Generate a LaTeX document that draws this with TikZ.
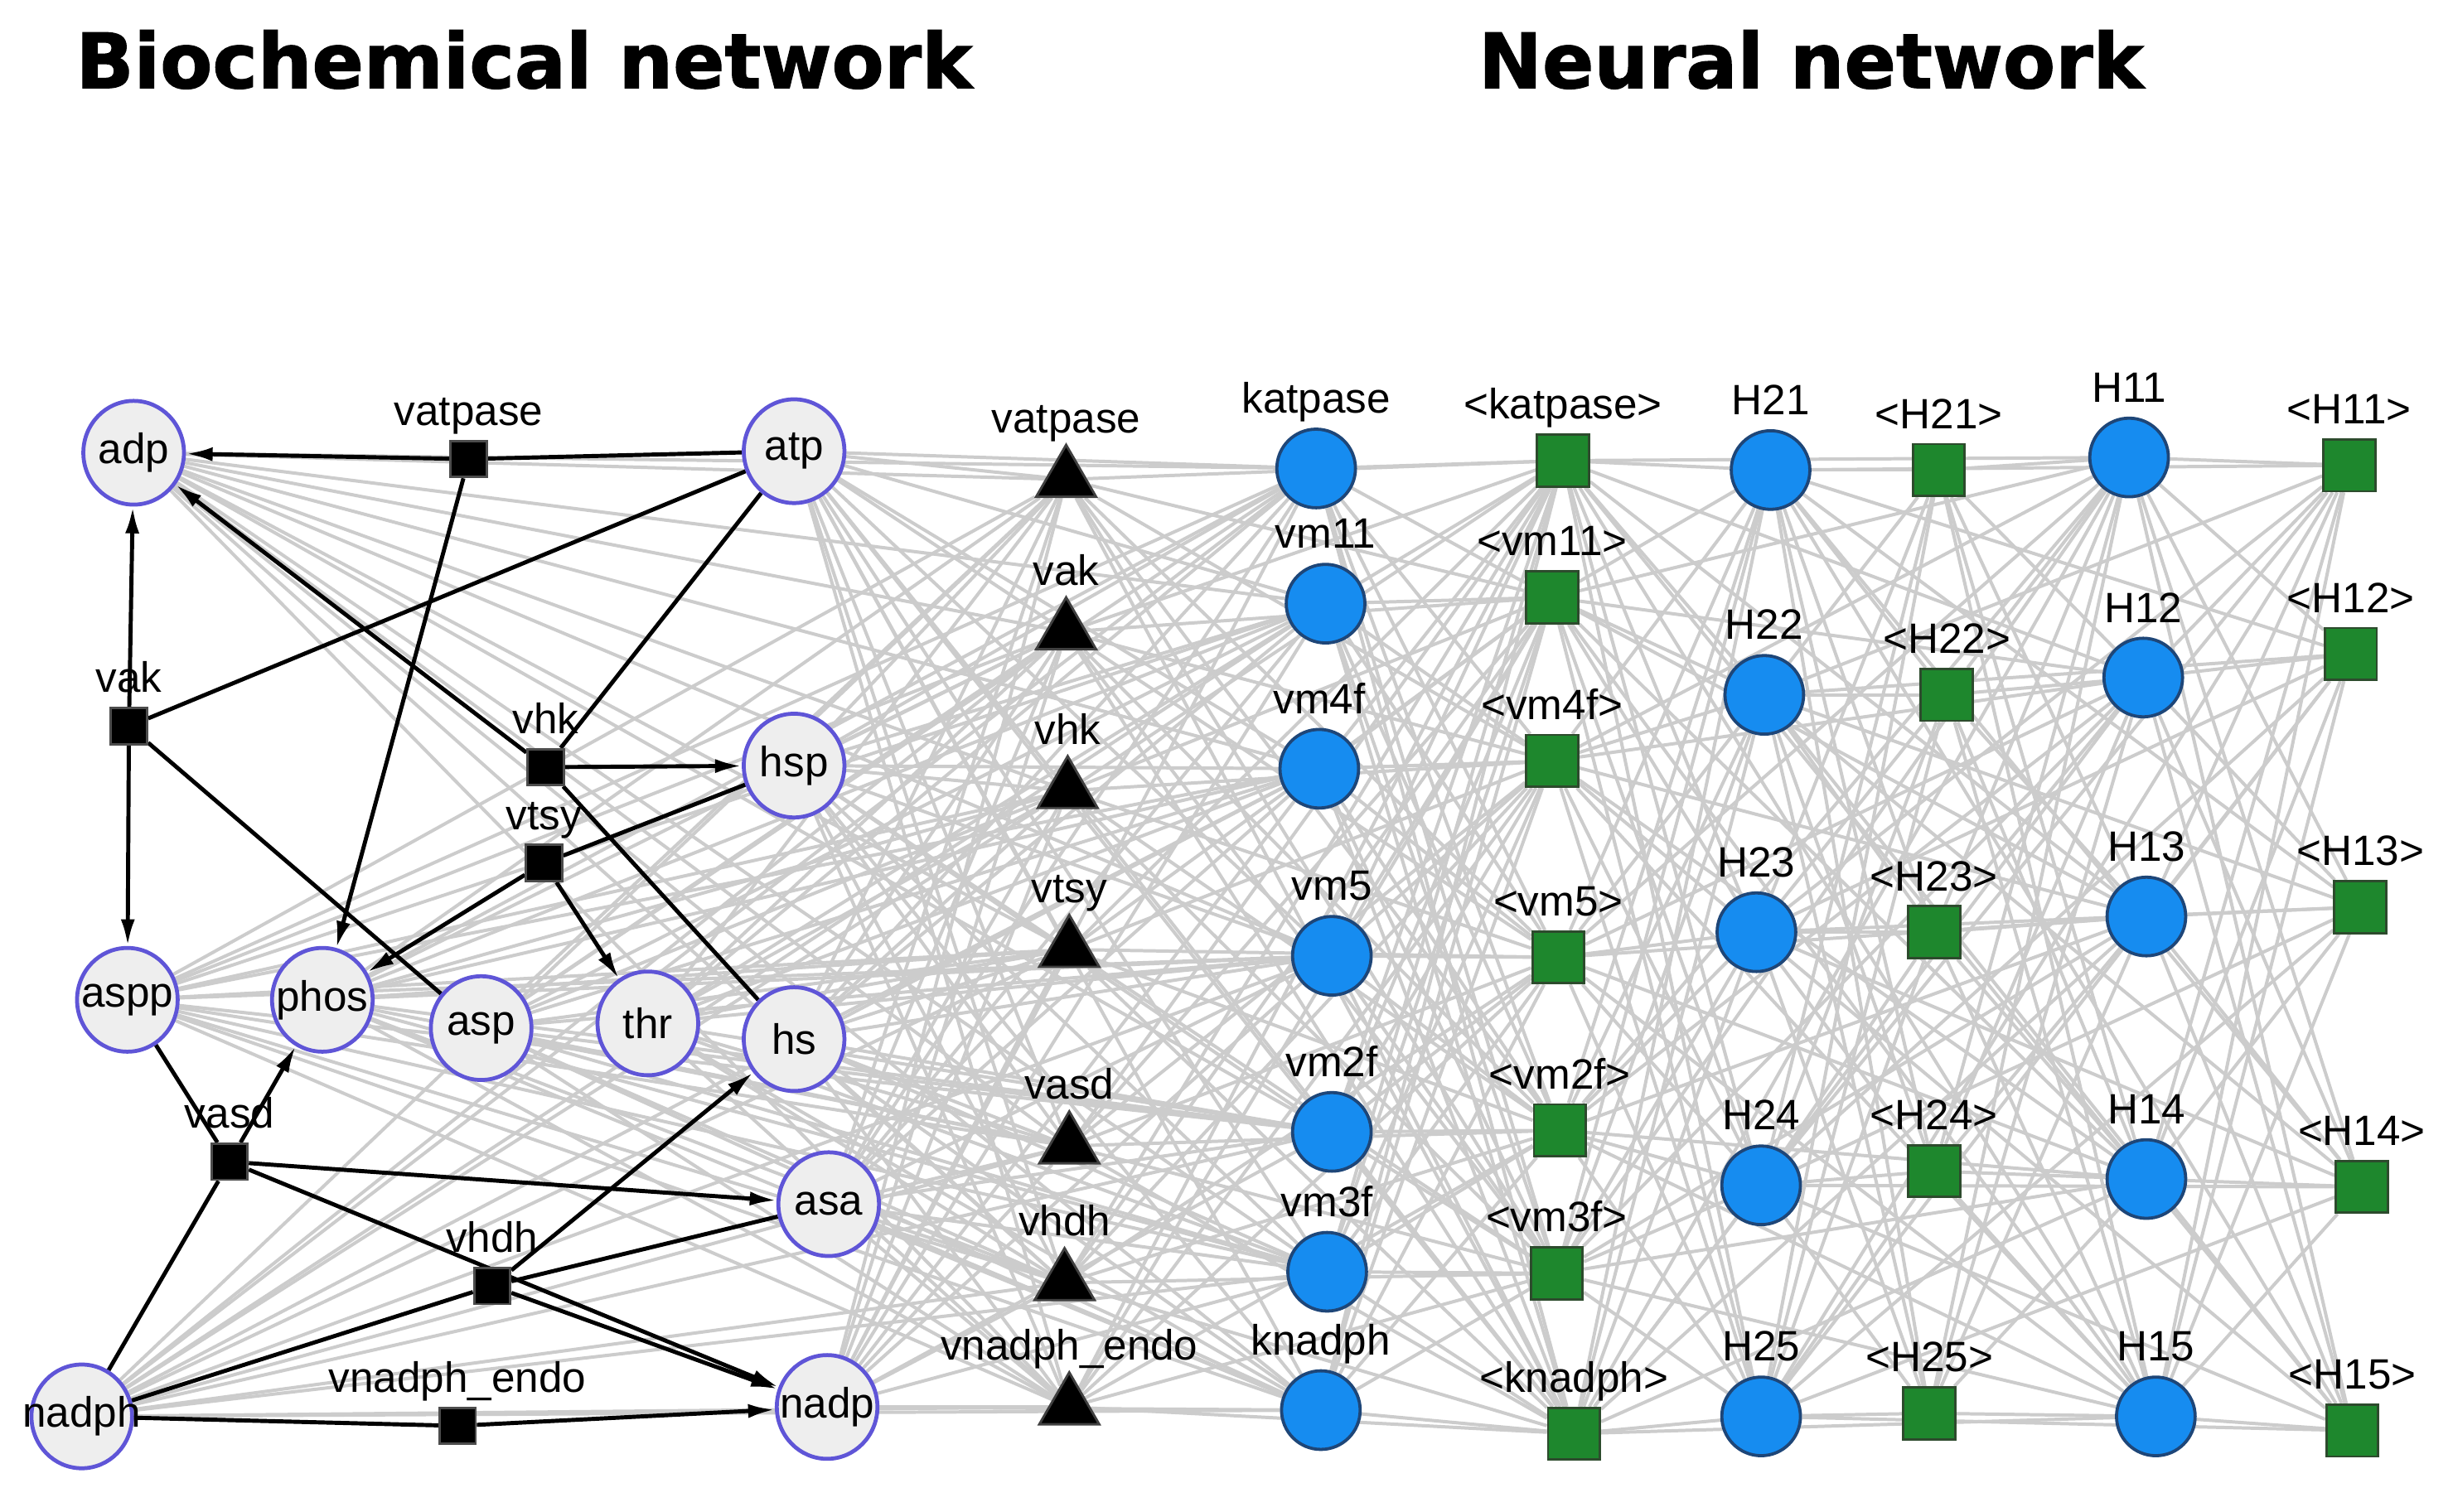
\documentclass[tikz,border=0pt]{standalone}
\usepackage{fontspec}
\setmainfont{Liberation Sans}
\newfontfamily\titlefont[FakeBold=1.3]{DejaVu Sans Bold}
\usetikzlibrary{shapes.geometric,arrows.meta,backgrounds}
\definecolor{edgegray}{RGB}{204,204,204}
\definecolor{specborder}{RGB}{95,85,215}
\definecolor{specfill}{RGB}{238,238,238}
\definecolor{nblue}{RGB}{22,140,240}
\definecolor{nblueb}{RGB}{30,70,120}
\definecolor{ngreen}{RGB}{30,135,45}
\definecolor{ngreenb}{RGB}{45,75,45}
\newcommand\zbox[1]{\makebox[0pt]{#1}}
\begin{document}
\begin{tikzpicture}[x=1pt,y=-1pt,
  every node/.style={font=\fontsize{27}{30}\selectfont},
  spec/.style={ellipse, minimum width=64, minimum height=66, inner sep=0, draw=specborder, fill=specfill, line width=2.5},
  rsq/.style={rectangle, minimum size=23, inner sep=0, fill=black, draw=black!70, line width=1.5},
  tri/.style={regular polygon, regular polygon sides=3, minimum size=44, inner sep=0, fill=black, draw=black!75, line width=1.5},
  bcirc/.style={circle, minimum size=50, inner sep=0, fill=nblue, draw=nblueb, line width=2},
  gsq/.style={rectangle, minimum size=33, inner sep=0, fill=ngreen, draw=ngreenb, line width=1.5},
  lbl/.style={inner sep=0, text height=20, text depth=6, label distance=3},
  tlbl/.style={inner sep=0, text height=20, text depth=6, label distance=0},
  gedge/.style={draw=edgegray, line width=2.1},
  bedge/.style={draw=black, line width=2.6},
  barrow/.style={bedge, -{Latex[length=17,width=9]}},
  ttl/.style={font=\titlefont\fontsize{48.5}{50}\selectfont, inner sep=0, anchor=base west}
]
\useasboundingbox (0,0) rectangle (1560,961.3);

% titles
\node[ttl] (t1) at (48,56) {Biochemical network};
\node[ttl] (t2) at (940,56) {Neural network};

% species
\node[spec] (adp) at (85,288) {\zbox{adp}};
\node[spec] (atp) at (505,287) {\zbox{atp}};
\node[spec] (hsp) at (505,487) {\zbox{hsp}};
\node[spec] (aspp) at (81,636) {\zbox{aspp}};
\node[spec] (phos) at (205,636) {\zbox{phos}};
\node[spec] (asp) at (306,654) {\zbox{asp}};
\node[spec] (thr) at (412,651) {\zbox{thr}};
\node[spec] (hs) at (505,661) {\zbox{hs}};
\node[spec] (asa) at (527,766) {\zbox{asa}};
\node[spec] (nadp) at (526,895) {\zbox{nadp}};
\node[spec] (nadph) at (52,901) {\zbox{nadph}};

% reactions (squares)
\node[rsq, label={[lbl]above:vatpase}] (rvatpase) at (298,292) {};
\node[rsq, label={[lbl]above:vak}] (rvak) at (82,462) {};
\node[rsq, label={[lbl]above:vhk}] (rvhk) at (347,488) {};
\node[rsq, label={[lbl]above:vtsy}] (rvtsy) at (346,549) {};
\node[rsq, label={[lbl]above:vasd}] (rvasd) at (146,739) {};
\node[rsq, label={[lbl]above:vhdh}] (rvhdh) at (313,818) {};
\node[rsq, label={[lbl]above:vnadph\_endo}] (rvnadph) at (291,907) {};

% triangles
\node[tri, label={[tlbl]above:vatpase}] (tvatpase) at (678,305) {};
\node[tri, label={[tlbl]above:vak}] (tvak) at (678,402) {};
\node[tri, label={[tlbl]above:vhk}] (tvhk) at (679,503) {};
\node[tri, label={[tlbl]above:vtsy}] (tvtsy) at (680,604) {};
\node[tri, label={[tlbl]above:vasd}] (tvasd) at (680,729) {};
\node[tri, label={[tlbl]above:vhdh}] (tvhdh) at (677,816) {};
\node[tri, label={[tlbl]above:vnadph\_endo}] (tvnadph) at (680,895) {};

% first blue layer
\node[bcirc, label={[lbl]above:katpase}] (katpase) at (837,298) {};
\node[bcirc, label={[lbl]above:vm11}] (vm11) at (843,384) {};
\node[bcirc, label={[lbl]above:vm4f}] (vm4f) at (839,489) {};
\node[bcirc, label={[lbl]above:vm5}] (vm5) at (847,608) {};
\node[bcirc, label={[lbl]above:vm2f}] (vm2f) at (847,720) {};
\node[bcirc, label={[lbl]above:vm3f}] (vm3f) at (844,809) {};
\node[bcirc, label={[lbl]above:knadph}] (knadph) at (840,897) {};

% first green layer
\node[gsq, label={[lbl]above:<katpase>}] (gkatpase) at (994,293) {};
\node[gsq, label={[lbl]above:<vm11>}] (gvm11) at (987,380) {};
\node[gsq, label={[lbl]above:<vm4f>}] (gvm4f) at (987,484) {};
\node[gsq, label={[lbl]above:<vm5>}] (gvm5) at (991,609) {};
\node[gsq, label={[lbl]above:<vm2f>}] (gvm2f) at (992,719) {};
\node[gsq, label={[lbl]above:<vm3f>}] (gvm3f) at (990,810) {};
\node[gsq, label={[lbl]above:<knadph>}] (gknadph) at (1001,912) {};

% H2 layer
\node[bcirc, label={[lbl]above:H21}] (H21) at (1126,299) {};
\node[bcirc, label={[lbl]above:H22}] (H22) at (1122,442) {};
\node[bcirc, label={[lbl]above:H23}] (H23) at (1117,593) {};
\node[bcirc, label={[lbl]above:H24}] (H24) at (1120,754) {};
\node[bcirc, label={[lbl]above:H25}] (H25) at (1120,901) {};
\node[gsq, label={[lbl]above:<H21>}] (gH21) at (1233,299) {};
\node[gsq, label={[lbl]above:<H22>}] (gH22) at (1238,442) {};
\node[gsq, label={[lbl]above:<H23>}] (gH23) at (1230,593) {};
\node[gsq, label={[lbl]above:<H24>}] (gH24) at (1230,745) {};
\node[gsq, label={[lbl]above:<H25>}] (gH25) at (1227,899) {};

% H1 layer
\node[bcirc, label={[lbl]above:H11}] (H11) at (1354,291) {};
\node[bcirc, label={[lbl]above:H12}] (H12) at (1363,431) {};
\node[bcirc, label={[lbl]above:H13}] (H13) at (1365,583) {};
\node[bcirc, label={[lbl]above:H14}] (H14) at (1365,750) {};
\node[bcirc, label={[lbl]above:H15}] (H15) at (1371,901) {};
\node[gsq, label={[lbl]above:<H11>}] (gH11) at (1494,296) {};
\node[gsq, label={[lbl]above:<H12>}] (gH12) at (1495,416) {};
\node[gsq, label={[lbl]above:<H13>}] (gH13) at (1501,577) {};
\node[gsq, label={[lbl]above:<H14>}] (gH14) at (1502,755) {};
\node[gsq, label={[lbl]above:<H15>}] (gH15) at (1496,910) {};

\begin{scope}[on background layer]
  \fill[white] (0,0) rectangle (1560,961.3);
  % gray connections
  \foreach \s in {adp,atp,hsp,aspp,phos,asp,thr,hs,asa,nadp,nadph}
    \foreach \b in {katpase,vm11,vm4f,vm5,vm2f,vm3f,knadph,tvatpase,tvak,tvhk,tvtsy,tvasd,tvhdh,tvnadph}
      \draw[gedge] (\s) -- (\b);
  \foreach \t in {tvatpase,tvak,tvhk,tvtsy,tvasd,tvhdh,tvnadph}
    \foreach \g in {gkatpase,gvm11,gvm4f,gvm5,gvm2f,gvm3f,gknadph}
      \draw[gedge] (\t) -- (\g);
  \foreach \b in {katpase,vm11,vm4f,vm5,vm2f,vm3f,knadph}
    \foreach \g in {gkatpase,gvm11,gvm4f,gvm5,gvm2f,gvm3f,gknadph}
      \draw[gedge] (\b) -- (\g);
  \foreach \g in {gkatpase,gvm11,gvm4f,gvm5,gvm2f,gvm3f,gknadph}
    \foreach \h in {H21,H22,H23,H24,H25,H11,H12,H13,H14,H15}
      \draw[gedge] (\g) -- (\h);
  \foreach \h in {H21,H22,H23,H24,H25}
    \foreach \k in {gH21,gH22,gH23,gH24,gH25,gH11,gH12,gH13,gH14,gH15}
      \draw[gedge] (\h) -- (\k);
  \foreach \h in {gH21,gH22,gH23,gH24,gH25}
    \foreach \k in {H11,H12,H13,H14,H15}
      \draw[gedge] (\h) -- (\k);
  \foreach \h in {H11,H12,H13,H14,H15}
    \foreach \k in {gH11,gH12,gH13,gH14,gH15}
      \draw[gedge] (\h) -- (\k);

  % black reaction edges
  \draw[bedge] (atp) -- (rvatpase);
  \draw[barrow] (rvatpase) -- (adp);
  \draw[barrow] (rvatpase) -- (phos);
  \draw[bedge] (atp) -- (rvak);
  \draw[bedge] (asp) -- (rvak);
  \draw[barrow] (rvak) -- (adp);
  \draw[barrow] (rvak) -- (aspp);
  \draw[bedge] (atp) -- (rvhk);
  \draw[bedge] (hs) -- (rvhk);
  \draw[barrow] (rvhk) -- (adp);
  \draw[barrow] (rvhk) -- (hsp);
  \draw[bedge] (hsp) -- (rvtsy);
  \draw[barrow] (rvtsy) -- (thr);
  \draw[barrow] (rvtsy) -- (phos);
  \draw[bedge] (aspp) -- (rvasd);
  \draw[bedge] (nadph) -- (rvasd);
  \draw[barrow] (rvasd) -- (phos);
  \draw[barrow] (rvasd) -- (asa);
  \draw[barrow] (rvasd) -- (nadp);
  \draw[bedge] (asa) -- (rvhdh);
  \draw[bedge] (nadph) -- (rvhdh);
  \draw[barrow] (rvhdh) -- (hs);
  \draw[barrow] (rvhdh) -- (nadp);
  \draw[bedge] (nadph) -- (rvnadph);
  \draw[barrow] (rvnadph) -- (nadp);
\end{scope}
\end{tikzpicture}
\end{document}
